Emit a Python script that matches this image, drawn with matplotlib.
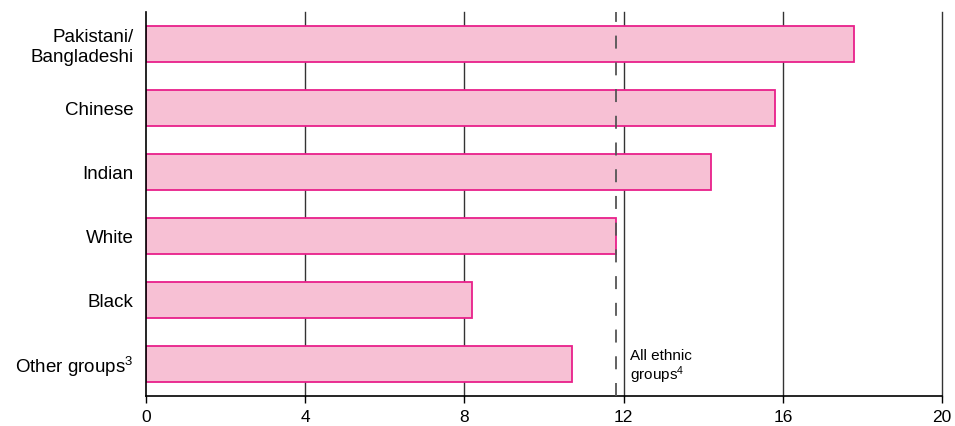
import matplotlib
matplotlib.use("Agg")
from matplotlib import pyplot as plt

# dane
groups = ["Pakistani/\nBangladeshi", "Chinese", "Indian", "White", "Black", "Other groups$^3$"]
values = [17.8, 15.8, 14.2, 11.8, 8.2, 10.7]
all_groups = 11.8
ticks = [0, 4, 8, 12, 16, 20]

plt.rcParams["font.family"] = ["Liberation Sans", "DejaVu Sans"]
plt.rcParams["mathtext.fontset"] = "custom"
plt.rcParams["mathtext.rm"] = "Liberation Sans"
plt.rcParams["mathtext.default"] = "rm"

fig = plt.figure(figsize=(9.55, 4.26), dpi=100)
ax = fig.add_axes([0.1529, 0.0704, 0.8335, 0.9014])

pos = list(range(len(groups)))
ax.barh(pos, values, height=0.55, color="#f7c0d4", edgecolor="#e8208a",
        linewidth=1.3, zorder=2)

# pionowe linie siatki
for t in ticks[1:]:
    ax.axvline(t, color="#333333", linewidth=1.0, zorder=1, clip_on=False)

# średnia dla wszystkich grup
ax.axvline(all_groups, color="#555555", linewidth=1.3, linestyle=(0, (7.2, 7.6)), zorder=3)
ax.text(12.15, 5.05, "All ethnic\ngroups$^4$", fontsize=11, va="center", ha="left",
        linespacing=1.1)

ax.set_xlim(0, 20)
ax.set_ylim(5.5, -0.5)
ax.set_xticks(ticks)
ax.set_xticklabels([str(t) for t in ticks], fontsize=12.5)
ax.set_yticks(pos)
ax.set_yticklabels(groups, fontsize=13.5)
ax.tick_params(axis="y", length=0, pad=9)
ax.tick_params(axis="x", length=5, width=1, pad=5)

for side in ["top", "right"]:
    ax.spines[side].set_visible(False)
ax.spines["left"].set_linewidth(1.2)
ax.spines["bottom"].set_linewidth(1.2)

fig.savefig("out.png", dpi=100)
